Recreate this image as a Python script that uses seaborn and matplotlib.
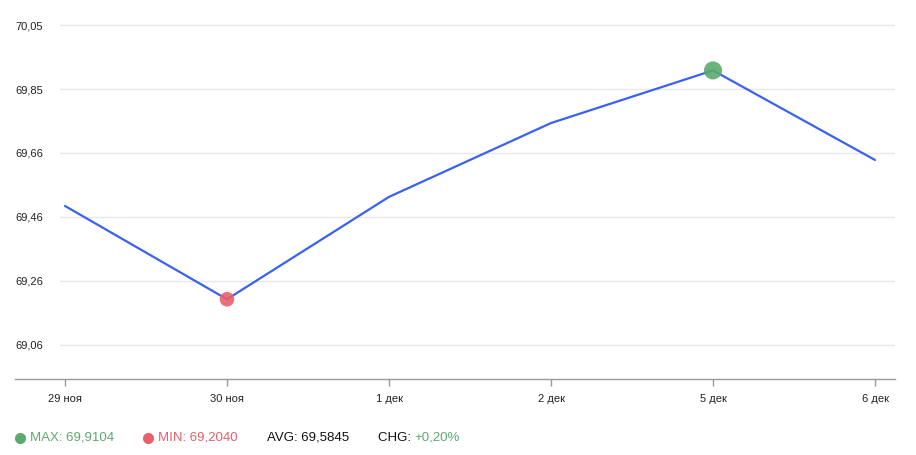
import matplotlib
matplotlib.use("Agg")
import matplotlib.pyplot as plt
from matplotlib.lines import Line2D
import seaborn as sns
import pandas as pd

# data
dates = ["29 ноя", "30 ноя", "1 дек", "2 дек", "5 дек", "6 дек"]
rates = [69.492, 69.204, 69.520, 69.748, 69.9104, 69.634]
y_ticks = [69.063, 69.2605, 69.458, 69.6555, 69.853, 70.0505]
y_tick_labels = ["69,06", "69,26", "69,46", "69,66", "69,85", "70,05"]
summary_max = "69,9104"
summary_min = "69,2040"
summary_avg = "69,5845"
summary_chg = "+0,20%"

df = pd.DataFrame({"idx": range(len(dates)), "rate": rates})
i_max = df["rate"].idxmax()
i_min = df["rate"].idxmin()

sns.set_style("white")
plt.rcParams["font.family"] = ["Liberation Sans", "DejaVu Sans"]

fig = plt.figure(figsize=(9.16, 4.55), dpi=100)
W, H = 916, 455
ax = fig.add_axes([15 / W, 1 - 379 / H, 880 / W, 374 / H])

green = "#5aab6e"
red = "#e8606a"
blue = "#3a62f0"

for t in y_ticks:
    ax.axhline(t, xmin=45 / 880, xmax=1, color="#e8e8e8", lw=1, zorder=0)

sns.lineplot(data=df, x="idx", y="rate", color=blue, lw=1.6, ax=ax, zorder=2)
sns.scatterplot(x=[df.loc[i_max, "idx"]], y=[df.loc[i_max, "rate"]], color=green,
                s=170, alpha=0.9, edgecolor="none", ax=ax, zorder=3)
sns.scatterplot(x=[df.loc[i_min, "idx"]], y=[df.loc[i_min, "rate"]], color=red,
                s=110, alpha=0.9, edgecolor="none", ax=ax, zorder=3)

px = 323.2  # pixels per unit
ax.set_xlim(-50 / 162, 5 + 20 / 162)
ax.set_ylim(69.063 - 34 / px, 70.0505 + 20 / px)

ax.set_xticks(range(len(dates)))
ax.set_xticklabels(dates, fontsize=8, color="#222222")
ax.set_yticks(y_ticks)
ax.set_yticklabels(y_tick_labels, fontsize=8, color="#222222", ha="left")
ax.tick_params(axis="y", length=0, pad=0)
ax.tick_params(axis="x", length=5, color="#999999", width=1, pad=6, bottom=True)
ax.set_xlabel("")
ax.set_ylabel("")

for s in ["top", "right", "left"]:
    ax.spines[s].set_visible(False)
ax.spines["bottom"].set_color("#999999")
ax.spines["bottom"].set_linewidth(1)

# summary row
yb = 1 - 438 / H
fs = 9.5
fig.add_artist(Line2D([20 / W], [yb], marker="o", markersize=8, color=green,
                      markeredgewidth=0, transform=fig.transFigure))
fig.text(30 / W, yb, "MAX: " + summary_max, color=green, fontsize=fs, va="center")
fig.add_artist(Line2D([148 / W], [yb], marker="o", markersize=8, color=red,
                      markeredgewidth=0, transform=fig.transFigure))
fig.text(158 / W, yb, "MIN: " + summary_min, color=red, fontsize=fs, va="center")
fig.text(267 / W, yb, "AVG: " + summary_avg, color="#111111", fontsize=fs, va="center")
fig.text(378 / W, yb, "CHG: ", color="#111111", fontsize=fs, va="center")
fig.text(414 / W, yb, summary_chg, color=green, fontsize=fs, va="center")

fig.savefig("out.png", dpi=100)
